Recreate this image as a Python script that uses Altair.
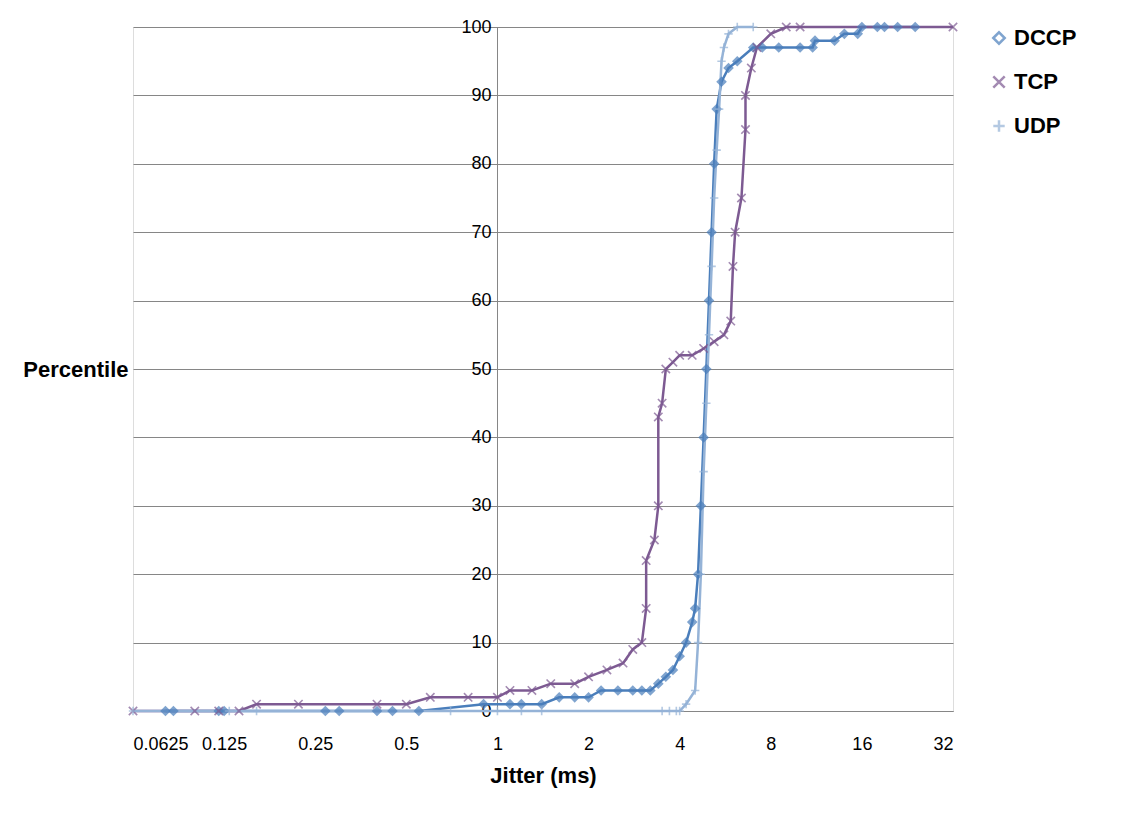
import altair as alt
import pandas as pd

DCCP_X = [0.08, 0.085, 0.12, 0.125, 0.27, 0.3, 0.4, 0.45, 0.55, 0.9, 1.1, 1.2, 1.4, 1.6, 1.8, 2.0,
          2.2, 2.5, 2.8, 3.0, 3.2, 3.4, 3.6, 3.8, 4.0, 4.2, 4.4, 4.5, 4.6, 4.7, 4.8, 4.9, 5.0, 5.1,
          5.2, 5.3, 5.5, 5.8, 6.2, 7.0, 7.5, 8.5, 10, 11, 11.2, 13, 14, 15.5, 16, 18, 19, 21, 24]
DCCP_Y = [0, 0, 0, 0, 0, 0, 0, 0, 0, 1, 1, 1, 1, 2, 2, 2,
          3, 3, 3, 3, 3, 4, 5, 6, 8, 10, 13, 15, 20, 30, 40, 50, 60, 70,
          80, 88, 92, 94, 95, 97, 97, 97, 97, 97, 98, 98, 99, 99, 100, 100, 100, 100, 100]

TCP_X = [0.0625, 0.1, 0.12, 0.14, 0.16, 0.22, 0.4, 0.5, 0.6, 0.8, 1.0, 1.1, 1.3, 1.5, 1.8, 2.0,
         2.3, 2.6, 2.8, 3.0, 3.1, 3.1, 3.3, 3.4, 3.4, 3.5, 3.6, 3.8, 4.0, 4.4, 4.8, 5.2, 5.6, 5.9,
         6.0, 6.1, 6.4, 6.6, 6.6, 6.9, 7.2, 8.0, 9.0, 10.0, 32]
TCP_Y = [0, 0, 0, 0, 1, 1, 1, 1, 2, 2, 2, 3, 3, 4, 4, 5,
         6, 7, 9, 10, 15, 22, 25, 30, 43, 45, 50, 51, 52, 52, 53, 54, 55, 57,
         65, 70, 75, 85, 90, 94, 97, 99, 100, 100, 100]

UDP_X = [0.0625, 0.13, 0.16, 0.7, 1.0, 1.2, 1.4, 3.5, 3.7, 3.9, 4.0, 4.2, 4.5, 4.6, 4.7, 4.8,
         4.9, 5.0, 5.1, 5.2, 5.3, 5.4, 5.5, 5.6, 5.8, 6.2, 7.0]
UDP_Y = [0, 0, 0, 0, 0, 0, 0, 0, 0, 0, 0, 1, 3, 10, 20, 35,
         45, 55, 65, 75, 82, 88, 95, 97, 99, 100, 100]

X_TICKS = [0.0625, 0.125, 0.25, 0.5, 1, 2, 4, 8, 16, 32]
SERIES = ["DCCP", "TCP", "UDP"]
COLORS = ["#4a7ebb", "#7d5a92", "#95b3d7"]
SHAPES = ["diamond", "M-1,-1L1,1M1,-1L-1,1", "M0,-1L0,1M-1,0L1,0"]

rows = []
for name, xs, ys in [("DCCP", DCCP_X, DCCP_Y), ("TCP", TCP_X, TCP_Y), ("UDP", UDP_X, UDP_Y)]:
    for i, (x, y) in enumerate(zip(xs, ys)):
        rows.append({"series": name, "i": i, "jitter": x, "pct": y})
data = pd.DataFrame(rows)

FONT = "Liberation Sans"
AXIS_STYLE = dict(labelFont=FONT, titleFont=FONT, labelFontSize=18, titleFontSize=22,
                  titleFontWeight="bold", labelColor="#000", titleColor="#000",
                  domainColor="#868686", gridColor="#868686", gridOpacity=1, ticks=False)

x_enc = alt.X(
    "jitter:Q",
    scale=alt.Scale(type="log", base=2, domain=[0.0625, 32]),
    axis=alt.Axis(values=X_TICKS, labelExpr="datum.value", grid=False,
                  labelPadding=24, title="Jitter (ms)", titlePadding=12, **AXIS_STYLE),
)
y_enc = alt.Y(
    "pct:Q",
    scale=alt.Scale(domain=[0, 100]),
    axis=alt.Axis(values=list(range(0, 101, 10)), offset=-364, labelPadding=6,
                  title="Percentile", titleAngle=0, titleAlign="right", titleBaseline="middle",
                  titleX=-369, titleY=342, **AXIS_STYLE),
)
color = alt.Color("series:N", scale=alt.Scale(domain=SERIES, range=COLORS),
                  legend=alt.Legend(title=None, labelFont=FONT, labelFontSize=22,
                                    labelFontWeight="bold", labelColor="#000",
                                    symbolSize=130, rowPadding=22, offset=30,
                                    symbolStrokeWidth=2.5))
shape = alt.Shape("series:N", scale=alt.Scale(domain=SERIES, range=SHAPES),
                  legend=alt.Legend(title=None))

lines = alt.Chart(data).mark_line(strokeWidth=2.5).encode(
    x=x_enc, y=y_enc, color=color, order="i:Q", detail="series:N"
)
points = alt.Chart(data).mark_point(size=70, strokeWidth=1.6).encode(
    x=x_enc, y=y_enc, color=color, shape=shape,
    fill=alt.condition(alt.datum.series == "DCCP", alt.value("#4a7ebb"), alt.value("transparent")),
)

chart = (
    alt.layer(lines, points)
    .properties(width=820, height=684, padding={"left": 14, "top": 10, "right": 5, "bottom": 5})
    .configure_view(stroke=None)
    .configure(background="white")
)
chart.save("out.html", embed_options={"renderer": "svg", "actions": False})
